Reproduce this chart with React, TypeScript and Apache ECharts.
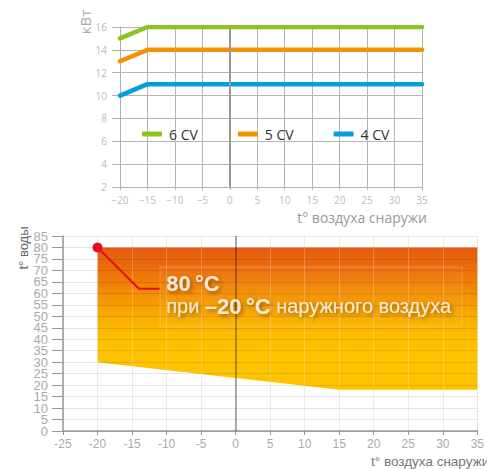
import React, { useEffect, useRef } from "react";
import * as echarts from "echarts";

// Top chart: heat output (кВт) vs outside air temperature
const topX = [-20, -15, 35];
const cv6 = [15, 16, 16];
const cv5 = [13, 14, 14];
const cv4 = [10, 11, 11];
const topNames = ["6 CV", "5 CV", "4 CV"];
const topColors = ["#8dc21f", "#f39200", "#009fe3"];

// Bottom chart: water temperature range vs outside air temperature
const waterX = [-20, 15, 35];
const waterMin = [30, 18, 18];
const waterMax = [80, 80, 80];

// Annotation leader line
const annotX = [-20, -14, -11];
const annotY = [80, 62, 62];

const fontTop = '"Open Sans", "Noto Sans", sans-serif';
const fontBot = '"Liberation Sans", Arial, sans-serif';

export default function App() {
  const ref = useRef<HTMLDivElement>(null);
  useEffect(() => {
    if (!ref.current) return;
    const chart = echarts.init(ref.current, null, { renderer: "svg" });
    const pairs = (xs: number[], ys: number[]) => xs.map((x, i) => [x, ys[i]]);
    const topSeries = [cv6, cv5, cv4].map((vals, i) => ({
      name: topNames[i],
      type: "line",
      xAxisIndex: 0,
      yAxisIndex: 0,
      data: pairs(topX, vals),
      symbol: "none",
      z: 3,
      color: topColors[i],
      lineStyle: { width: 4.5, cap: "round", join: "round", color: topColors[i] },
    }));
    const gradient = new echarts.graphic.LinearGradient(0, 0, 0, 1, [
      { offset: 0, color: "#e55a11" },
      { offset: 0.15, color: "#eb6e0b" },
      { offset: 0.3, color: "#f28a05" },
      { offset: 0.45, color: "#f8a600" },
      { offset: 0.6, color: "#fcbb00" },
      { offset: 0.72, color: "#fdc300" },
      { offset: 1, color: "#fdc300" },
    ]);
    const vLines = [-20, -15, -10, -5, 5, 10, 15, 20, 25, 30].map((x) => ({ xAxis: x }));
    const shadow = {
      textShadowColor: "rgba(100,45,0,0.75)",
      textShadowBlur: 4,
      textShadowOffsetX: 2,
      textShadowOffsetY: 2,
    };
    const botLabel = { color: "#aaa", fontSize: 13, fontFamily: fontBot, margin: 15, showMinLabel: true, showMaxLabel: true };
    const option: any = {
      animation: false,
      legend: {
        data: topNames,
        left: 137,
        top: 122,
        icon: "roundRect",
        itemWidth: 20,
        itemHeight: 5,
        itemGap: 40,
        textStyle: { fontSize: 14, color: "#333", fontFamily: fontTop, padding: [0, 0, 0, 2] },
      },
      grid: [
        { left: 120, right: 65, top: 27, height: 160 },
        { left: 63, right: 4, top: 236, height: 195 },
      ],
      xAxis: [
        {
          gridIndex: 0,
          type: "value",
          min: -20,
          max: 35,
          interval: 5,
          axisLine: { show: true, onZero: false, lineStyle: { color: "#b0b0b0" } },
          axisTick: { show: true, length: 3, lineStyle: { color: "#b0b0b0" } },
          splitLine: { show: true, lineStyle: { color: "#b5b5b5" } },
          axisLabel: {
            color: "#bbb",
            fontSize: 10,
            fontFamily: fontTop,
            margin: 8,
            showMinLabel: true,
            showMaxLabel: true,
            formatter: (v: number) => (v < 0 ? "\u2212" + Math.abs(v) : String(v)),
          },
        },
        {
          gridIndex: 1,
          type: "value",
          min: -25,
          max: 35,
          interval: 5,
          axisLine: { show: true, onZero: false, lineStyle: { color: "#999", width: 1.5 } },
          axisTick: { show: true, length: 4, lineStyle: { color: "#999" } },
          splitLine: { show: true, lineStyle: { color: "#e6e6e6" } },
          axisLabel: {
            color: "#aaa",
            fontSize: 12,
            fontFamily: fontBot,
            margin: 7,
            showMinLabel: true,
            showMaxLabel: true,
          },
        },
      ],
      yAxis: [
        {
          gridIndex: 0,
          type: "value",
          min: 2,
          max: 16,
          interval: 2,
          axisLine: { show: true, onZero: false, lineStyle: { color: "#b0b0b0" } },
          axisTick: { show: true, length: 8, lineStyle: { color: "#b0b0b0" } },
          splitLine: { show: true, lineStyle: { color: "#b5b5b5" } },
          axisLabel: { color: "#bbb", fontSize: 10, fontFamily: fontTop, margin: 13, showMinLabel: true, showMaxLabel: true },
        },
        {
          gridIndex: 1,
          type: "value",
          min: 0,
          max: 85,
          interval: 5,
          z: 3,
          position: "left",
          axisLine: { show: true, onZero: false, lineStyle: { color: "#999", width: 1.5 } },
          axisTick: { show: true, length: 11, lineStyle: { color: "#999" } },
          splitLine: { show: true, lineStyle: { color: "rgba(0,0,0,0.1)" } },
          axisLabel: { ...botLabel, formatter: (v: number) => (v % 10 === 0 ? String(v) : "") },
        },
        {
          gridIndex: 1,
          type: "value",
          min: 0,
          max: 85,
          interval: 5,
          z: 3,
          position: "left",
          offset: 0,
          axisLine: { show: false, onZero: false },
          axisTick: { show: false },
          splitLine: { show: false },
          axisLabel: { ...botLabel, formatter: (v: number) => (v % 10 === 5 ? String(v) : "") },
        },
      ],
      series: [
        {
          name: "zero-top",
          type: "line",
          xAxisIndex: 0,
          yAxisIndex: 0,
          data: [],
          z: 1,
          markLine: {
            silent: true,
            symbol: "none",
            label: { show: false },
            lineStyle: { color: "#999", width: 2, type: "solid" },
            data: [{ xAxis: 0 }],
          },
        },
        ...topSeries,
        {
          name: "range",
          type: "custom",
          xAxisIndex: 1,
          yAxisIndex: 1,
          z: 2,
          data: waterX.map((x, i) => [x, waterMin[i], waterMax[i]]),
          renderItem: (params: any, api: any) => {
            if (params.dataIndex !== 0) return null;
            const top = waterX.map((x, i) => api.coord([x, waterMax[i]]));
            const bottom = waterX
              .map((x, i) => api.coord([x, waterMin[i]]))
              .reverse();
            return {
              type: "polygon",
              shape: { points: [...top, ...bottom] },
              style: { fill: gradient },
            };
          },
          markLine: {
            silent: true,
            symbol: "none",
            label: { show: false },
            data: [
              ...vLines.map((d) => ({ ...d, lineStyle: { color: "rgba(255,255,255,0.22)", width: 1, type: "solid" } })),
              { xAxis: 0, lineStyle: { color: "rgba(0,0,0,0.3)", width: 2, type: "solid" } },
            ],
          },
        },
        {
          name: "annot",
          type: "line",
          xAxisIndex: 1,
          yAxisIndex: 1,
          z: 10,
          color: "#e3101b",
          lineStyle: { color: "#e3101b", width: 2 },
          symbol: "none",
          data: annotX.map((x, i) => {
            const item: any = { value: [x, annotY[i]] };
            if (i === 0) {
              item.symbol = "circle";
              item.symbolSize = 10;
              item.itemStyle = { color: "#e3101b" };
            }
            return item;
          }),
        },
        {
          name: "annot-label",
          type: "scatter",
          xAxisIndex: 1,
          yAxisIndex: 1,
          z: 11,
          symbolSize: 1,
          itemStyle: { color: "rgba(0,0,0,0)" },
          data: [[annotX[annotX.length - 1], annotY[annotY.length - 1]]],
          label: {
            show: true,
            position: "right",
            distance: 0,
            offset: [0, 8],
            padding: [5, 11, 9, 6],
            backgroundColor: "rgba(255,255,255,0.04)",
            borderColor: "rgba(255,255,255,0.13)",
            borderWidth: 1,
            formatter:
              "{a|" + annotY[0] + "\u2009°C}\n{b|при }{c|\u2013" + Math.abs(annotX[0]) + "\u2009°C}{b| наружного воздуха}",
            rich: {
              a: { fontSize: 22, fontWeight: "bold", color: "#fff", fontFamily: fontBot, lineHeight: 23, ...shadow },
              b: { fontSize: 20, color: "#fff", fontFamily: fontBot, lineHeight: 23, ...shadow },
              c: { fontSize: 22, fontWeight: "bold", color: "#fff", fontFamily: fontBot, lineHeight: 23, ...shadow },
            },
          },
        },
      ],
      graphic: [
        {
          type: "text",
          x: 84.5,
          y: 22,
          rotation: Math.PI / 2,
          style: { text: "кВт", fill: "#aaa", font: `15px ${fontTop}`, align: "center", verticalAlign: "middle" },
        },
        {
          type: "text",
          x: 427,
          y: 217,
          style: { text: "t° воздуха снаружи", fill: "#999", font: `14px ${fontTop}`, align: "right", verticalAlign: "middle" },
        },
        {
          type: "text",
          x: 23,
          y: 248,
          rotation: Math.PI / 2,
          style: { text: "t° воды", fill: "#666", font: `13px ${fontBot}`, align: "center", verticalAlign: "middle" },
        },
        {
          type: "text",
          x: 371,
          y: 461,
          style: { text: "t° воздуха снаружи", fill: "#777", font: `13.5px ${fontBot}`, align: "left", verticalAlign: "middle" },
        },
      ],
    };
    chart.setOption(option);
    return () => chart.dispose();
  }, []);
  return (
    <div
      ref={ref}
      style={{ position: "absolute", left: 0, top: 0, width: 487, height: 469 }}
    />
  );
}
